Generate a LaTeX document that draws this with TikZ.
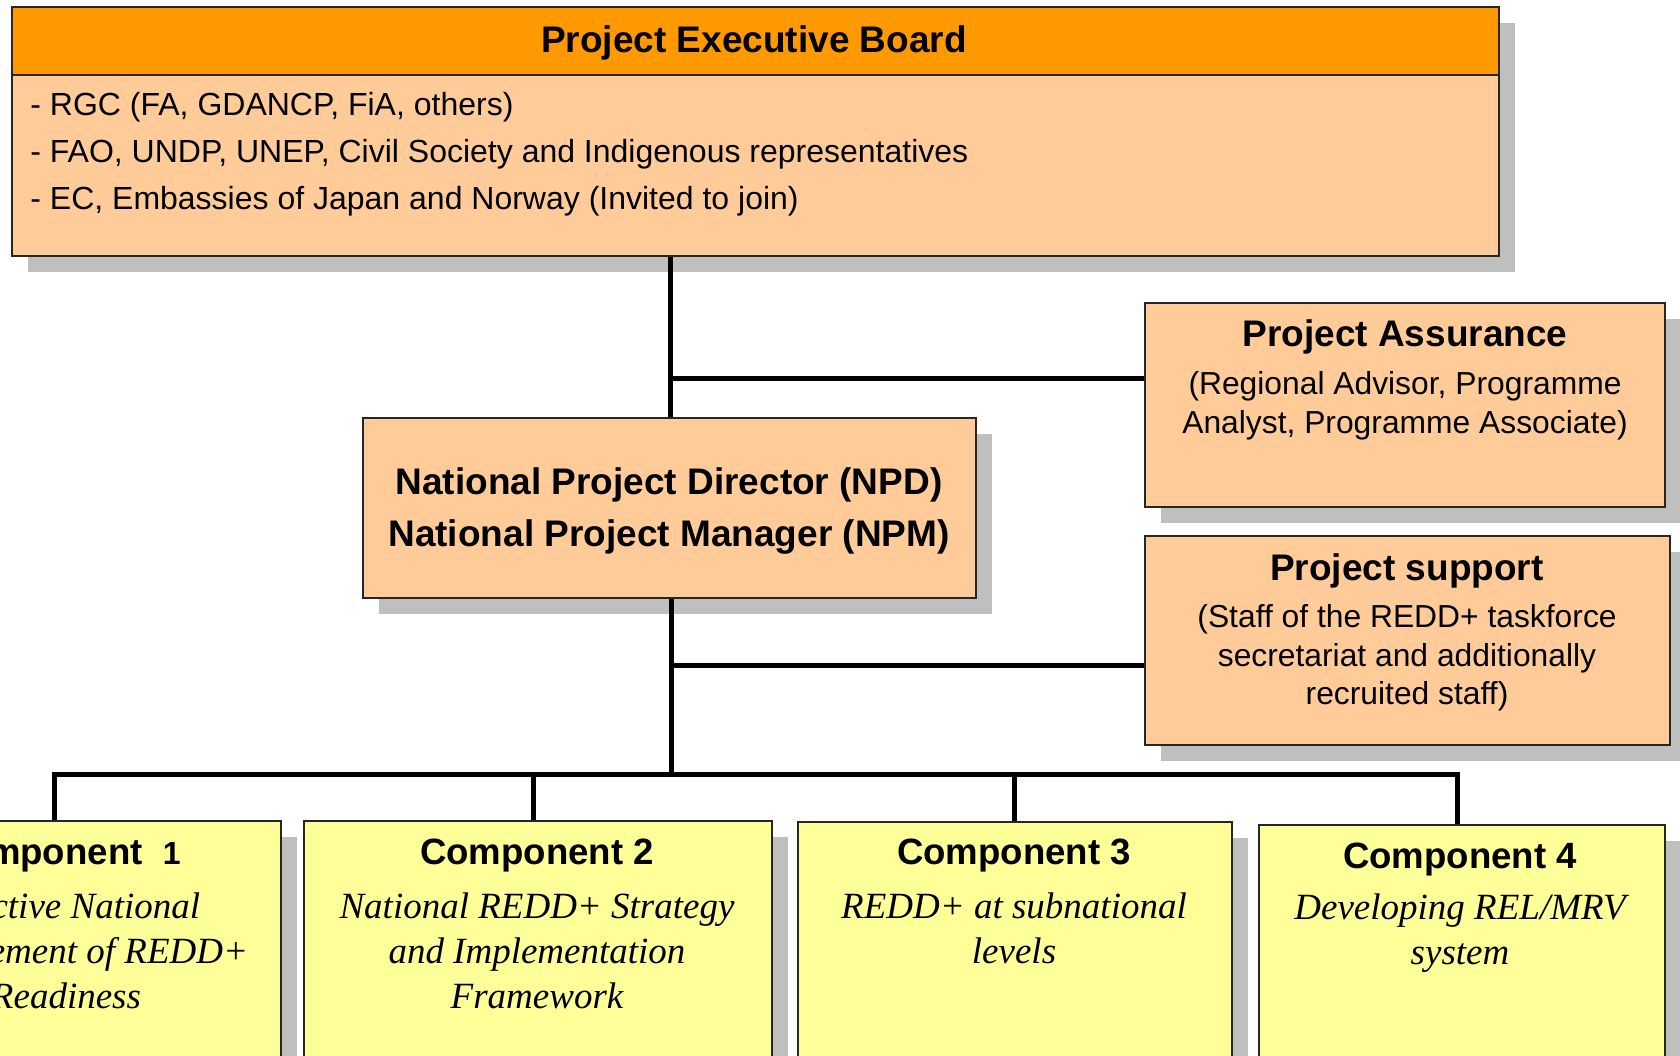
\documentclass[tikz,border=0pt]{standalone}
\usepackage{fontspec}
\setmainfont{Liberation Sans}
\newfontfamily\serifit{Liberation Serif}
\usetikzlibrary{shadows}
\definecolor{hdr}{HTML}{FF9900}
\definecolor{peach}{HTML}{FFCC99}
\definecolor{yel}{HTML}{FFFF99}
\definecolor{shd}{HTML}{BFBFBF}
\tikzset{
  box/.style={draw=black!85, line width=0.8pt, anchor=north west, inner sep=0pt,
    drop shadow={shadow xshift=8pt, shadow yshift=-8pt, fill=shd, opacity=1}},
  plainbox/.style={draw=black!85, line width=0.8pt, anchor=north west, inner sep=0pt},
  conn/.style={line width=2.5pt, black},
  ttl/.style={inner sep=0pt, align=center, font=\bfseries\fontsize{18.5}{26}\selectfont},
  ctitle/.style={inner sep=0pt, align=center, font=\bfseries\fontsize{18.3}{20}\selectfont},
  body/.style={inner sep=0pt, align=center, font=\fontsize{15.9}{19.25}\selectfont},
  itx/.style={inner sep=0pt, align=center, font=\serifit\itshape\fontsize{18.5}{22.5}\selectfont},
}
\begin{document}
\begin{tikzpicture}[x=0.5pt,y=-0.5pt]
\useasboundingbox (0,0) rectangle (1680,1055);
\clip (0,0) rectangle (1680,1055);
\fill[white] (0,0) rectangle (1680,1055);

% Project Executive Board
\node[box, fill=peach, minimum width=743.5pt, minimum height=124.5pt] (board) at (11,6) {};
\node[plainbox, fill=hdr, line width=1.2pt, minimum width=743.5pt, minimum height=34pt] (boardhdr) at (11,6) {};
\node[ttl] (boardttl) at (754,43) {Project Executive Board};
\node[body, anchor=west, align=left, font=\fontsize{16}{23.5}\selectfont] (boardtxt) at (30,154)
  {- RGC (FA, GDANCP, FiA, others)\\
   - FAO, UNDP, UNEP, Civil Society and Indigenous representatives\\
   - EC, Embassies of Japan and Norway (Invited to join)};

% Project Assurance
\node[box, fill=peach, minimum width=260pt, minimum height=102pt] (pa) at (1144,302) {};
\node[ttl] (pattl) at (1405,337) {Project Assurance};
\node[body] (patxt) at (1405,406) {(Regional Advisor, Programme\\Analyst, Programme Associate)};

% Project support
\node[box, fill=peach, minimum width=262.5pt, minimum height=104.5pt] (ps) at (1144,535) {};
\node[ttl] (psttl) at (1407,571) {Project support};
\node[body] (pstxt) at (1407,658) {(Staff of the REDD+ taskforce\\secretariat and additionally\\recruited staff)};

% NPD / NPM
\node[box, fill=peach, minimum width=306.5pt, minimum height=90pt] (npd) at (362,417) {};
\node[ttl] (npdtxt) at (669,511) {National Project Director (NPD)\\National Project Manager (NPM)};

% Components
\node[box, fill=yel, minimum width=218pt, minimum height=140pt] (c1) at (-156,820) {};
\node[box, fill=yel, minimum width=234pt, minimum height=140pt] (c2) at (303,820) {};
\node[box, fill=yel, minimum width=217pt, minimum height=140pt] (c3) at (797,821) {};
\node[box, fill=yel, minimum width=203pt, minimum height=140pt] (c4) at (1258,824) {};

\node[ctitle] (c1ttl) at (60,856) {Component\ \ {\fontsize{16}{20}\selectfont 1}};
\node[itx] (c1txt) at (66,951) {Effective National\\Management of REDD+\\Readiness};
\node[ctitle] (c2ttl) at (537,856) {Component 2};
\node[itx] (c2txt) at (537,951) {National REDD+ Strategy\\and Implementation\\Framework};
\node[ctitle] (c3ttl) at (1014,856) {Component 3};
\node[itx] (c3txt) at (1014,928.5) {REDD+ at subnational\\levels};
\node[ctitle] (c4ttl) at (1460,860) {Component 4};
\node[itx] (c4txt) at (1460,933.5) {Developing REL/MRV\\system};

% connectors
\coordinate (j1) at (670,378);
\coordinate (j2) at (671,665);
\coordinate (d1) at (54,774);
\coordinate (d2) at (533,774);
\coordinate (d3) at (1014,774);
\coordinate (d4) at (1457,774);
\coordinate (bus) at (671,774);

\draw[conn] (npd.north -| j1) -- (j1 |- board.south);
\draw[conn] (j1) -- (j1 -| pa.west);
\draw[conn] (npd.south -| j2) -- (bus);
\draw[conn] (j2) -- (j2 -| ps.west);
\draw[conn, line cap=rect] (d1) -- (d4);
\draw[conn] (d1) -- (d1 |- c1.north);
\draw[conn] (d2) -- (d2 |- c2.north);
\draw[conn] (d3) -- (d3 |- c3.north);
\draw[conn] (d4) -- (d4 |- c4.north);
\end{tikzpicture}
\end{document}
